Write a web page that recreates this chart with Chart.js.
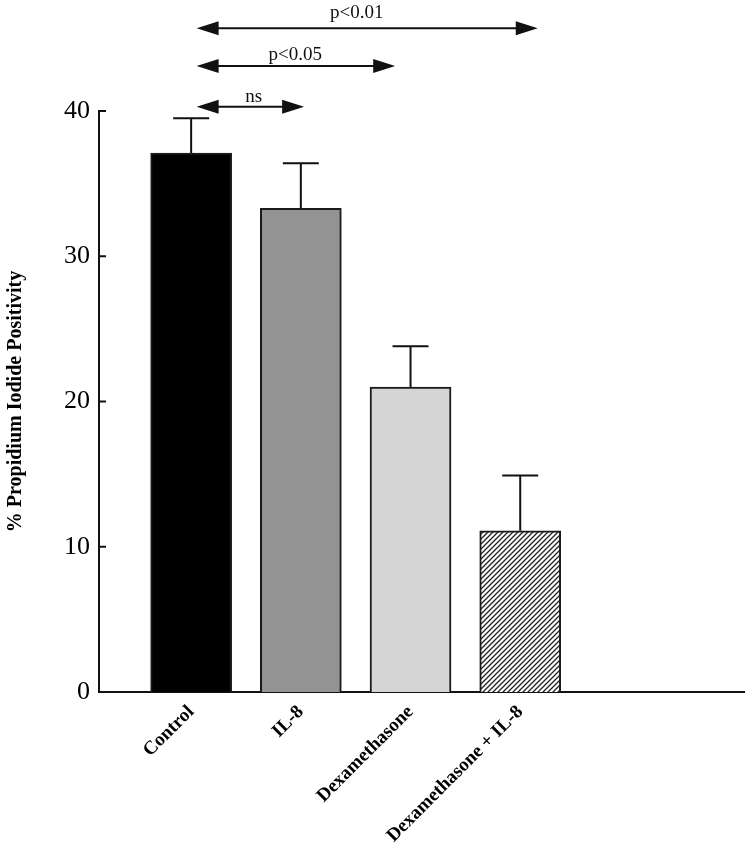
<!DOCTYPE html>
<html>
<head>
<meta charset="utf-8">
<script src="https://cdn.jsdelivr.net/npm/chart.js@4.4.1/dist/chart.umd.min.js"></script>
<style>
  html, body { margin: 0; padding: 0; background: #fff; }
  #wrap { width: 750px; height: 853px; position: relative; }
</style>
</head>
<body>
<div id="wrap"><canvas id="chart"></canvas></div>
<script>
const groups = ['Control', 'IL-8', 'Dexamethasone', 'Dexamethasone + IL-8'];
const means = [37.1, 33.3, 21.0, 11.1];
const errors = [2.4, 3.1, 2.8, 3.8];
const yTicks = [0, 10, 20, 30, 40];
// significance arrows: from/to/labelAt in group units, level/textLevel in % units
const comparisons = [
  { label: 'ns', from: 0.05, to: 1.03, labelAt: 0.57, level: 40.3, textLevel: 40.6 },
  { label: 'p<0.05', from: 0.05, to: 1.86, labelAt: 0.95, level: 43.1, textLevel: 43.5 },
  { label: 'p<0.01', from: 0.05, to: 3.16, labelAt: 1.51, level: 45.7, textLevel: 46.4 }
];

const serif = '"Liberation Serif", "Times New Roman", serif';
const canvas = document.getElementById('chart');

function hatch() {
  const s = 5;
  const c = document.createElement('canvas');
  c.width = s; c.height = s;
  const g = c.getContext('2d');
  g.fillStyle = '#fff';
  g.fillRect(0, 0, s, s);
  g.strokeStyle = '#222';
  g.lineWidth = 1.3;
  g.beginPath();
  g.moveTo(0, s); g.lineTo(s, 0);
  g.moveTo(-1, 1); g.lineTo(1, -1);
  g.moveTo(s - 1, s + 1); g.lineTo(s + 1, s - 1);
  g.stroke();
  return canvas.getContext('2d').createPattern(c, 'repeat');
}

function arrowHead(ctx, tipX, y, dir) {
  ctx.beginPath();
  ctx.moveTo(tipX, y);
  ctx.lineTo(tipX + dir * 22, y - 7);
  ctx.lineTo(tipX + dir * 22, y + 7);
  ctx.closePath();
  ctx.fill();
}

const decorations = {
  id: 'decorations',
  afterDraw(chart) {
    const { ctx, scales: { x, y } } = chart;
    ctx.save();
    ctx.strokeStyle = '#111';
    ctx.fillStyle = '#111';
    ctx.lineWidth = 2;

    // inward y ticks
    yTicks.forEach(v => {
      const py = y.getPixelForValue(v);
      ctx.beginPath();
      ctx.moveTo(x.left, py);
      ctx.lineTo(x.left + 7, py);
      ctx.stroke();
    });

    // error bars (upper only)
    means.forEach((m, i) => {
      const cx = x.getPixelForValue(i);
      const y0 = y.getPixelForValue(m);
      const y1 = y.getPixelForValue(m + errors[i]);
      ctx.beginPath();
      ctx.moveTo(cx, y0); ctx.lineTo(cx, y1);
      ctx.moveTo(cx - 18, y1); ctx.lineTo(cx + 18, y1);
      ctx.stroke();
    });

    // comparison arrows
    ctx.font = '19px ' + serif;
    ctx.textAlign = 'center';
    ctx.textBaseline = 'alphabetic';
    comparisons.forEach(c => {
      const x1 = x.getPixelForValue(c.from);
      const x2 = x.getPixelForValue(c.to);
      const py = y.getPixelForValue(c.level);
      ctx.beginPath();
      ctx.moveTo(x1 + 20, py); ctx.lineTo(x2 - 20, py);
      ctx.stroke();
      arrowHead(ctx, x1, py, 1);
      arrowHead(ctx, x2, py, -1);
      ctx.fillText(c.label, x.getPixelForValue(c.labelAt), y.getPixelForValue(c.textLevel));
    });
    ctx.restore();
  }
};

new Chart(canvas, {
  type: 'bar',
  data: {
    datasets: [{
      data: means.map((v, i) => ({ x: i, y: v })),
      backgroundColor: ['#000000', '#939393', '#d5d5d5', hatch()],
      borderColor: '#1a1a1a',
      borderWidth: 2,
      barThickness: 81
    }]
  },
  options: {
    responsive: true,
    maintainAspectRatio: false,
    animation: false,
    devicePixelRatio: 1,
    layout: { padding: { top: 111, right: 6, left: 0, bottom: 0 } },
    plugins: { legend: { display: false }, tooltip: { enabled: false } },
    scales: {
      x: {
        type: 'linear',
        offset: false,
        min: -0.84,
        max: 5.04,
        grid: { display: false, drawTicks: false, offset: false },
        border: { display: true, color: '#111', width: 2 },
        afterBuildTicks: s => { s.ticks = groups.map((_, i) => ({ value: i })); },
        afterFit: s => { s.height = 161; },
        ticks: {
          autoSkip: false,
          minRotation: 45,
          maxRotation: 45,
          padding: 9,
          color: '#000',
          font: { family: serif, size: 19, weight: 'bold' },
          callback: v => groups[v] ?? ''
        }
      },
      y: {
        min: 0,
        max: 40,
        afterBuildTicks: s => { s.ticks = yTicks.map(v => ({ value: v })); },
        afterFit: s => { s.width = 99; },
        grid: { display: false, drawTicks: false },
        border: { display: true, color: '#111', width: 2 },
        ticks: { padding: 9, color: '#000', font: { family: serif, size: 26 } },
        title: {
          display: true,
          text: '% Propidium Iodide Positivity',
          color: '#000',
          padding: 4,
          font: { family: serif, size: 20, weight: 'bold' }
        }
      }
    }
  },
  plugins: [decorations]
});
</script>
</body>
</html>
